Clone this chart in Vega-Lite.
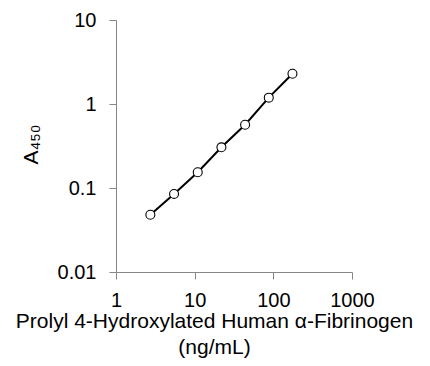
{
  "$schema": "https://vega.github.io/schema/vega-lite/v6.json",
  "width": 236,
  "height": 252,
  "autosize": "none",
  "padding": {"left": 116, "top": 20, "right": 78, "bottom": 94},
  "background": "white",
  "config": {
    "view": {"stroke": null},
    "font": "Liberation Sans",
    "axis": {
      "grid": false,
      "domainColor": "#868686",
      "tickColor": "#868686",
      "tickSize": 7,
      "labelColor": "black",
      "labelFontSize": 20,
      "labelFlush": false,
      "labelOverlap": false,
      "titleColor": "black",
      "titleFontSize": 21,
      "titleFontWeight": "normal"
    }
  },
  "data": {
    "values": [
      {"conc": 2.734, "abs": 0.048},
      {"conc": 5.469, "abs": 0.085},
      {"conc": 10.94, "abs": 0.154},
      {"conc": 21.88, "abs": 0.305},
      {"conc": 43.75, "abs": 0.566},
      {"conc": 87.5, "abs": 1.19},
      {"conc": 175, "abs": 2.29}
    ]
  },
  "encoding": {
    "x": {
      "field": "conc",
      "type": "quantitative",
      "scale": {"type": "log", "domain": [1, 1000], "nice": false},
      "axis": {
        "values": [1, 10, 100, 1000],
        "format": "~g",
        "labelPadding": 11,
        "title": ["Prolyl 4-Hydroxylated Human α-Fibrinogen", "(ng/mL)"],
        "titleX": 98,
        "titleY": 55,
        "titleAlign": "center",
        "titleBaseline": "alphabetic",
        "titleLineHeight": 26
      }
    },
    "y": {
      "field": "abs",
      "type": "quantitative",
      "scale": {"type": "log", "domain": [0.01, 10], "nice": false},
      "axis": {
        "values": [0.01, 0.1, 1, 10],
        "format": "~g",
        "labelPadding": 13,
        "title": "A₄₅₀",
        "titleAngle": 270,
        "titleX": -79,
        "titleY": 124,
        "titleAlign": "center",
        "titleBaseline": "alphabetic"
      }
    }
  },
  "layer": [
    {"mark": {"type": "line", "color": "black", "strokeWidth": 2}},
    {"mark": {"type": "point", "shape": "circle", "filled": true, "fill": "white", "stroke": "black", "strokeWidth": 1.1, "size": 80, "opacity": 1}}
  ]
}
